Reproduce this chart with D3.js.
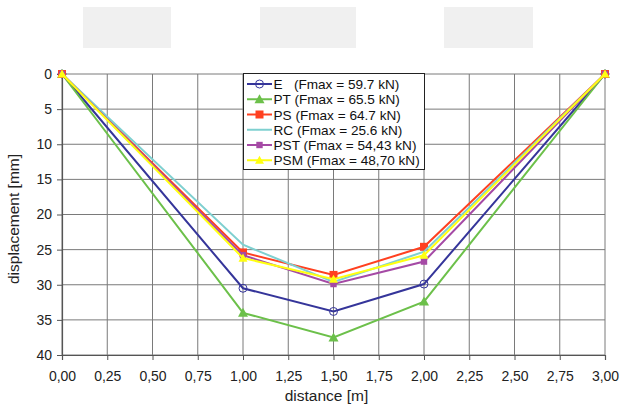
<!DOCTYPE html>
<html>
<head>
<meta charset="utf-8">
<script src="https://cdn.jsdelivr.net/npm/d3@7"></script>
<style>
  html, body { margin: 0; padding: 0; background: #fff; }
  svg text { font-family: "Liberation Sans", Arial, sans-serif; }
</style>
</head>
<body>
<svg id="chart" width="620" height="404"></svg>
<script>
// Measurement positions along the beam [m]
const distances = [0, 1.0, 1.5, 2.0, 3.0];

// Displacement at each position [mm], one array per specimen
const seriesE   = [0, 30.5, 33.8, 29.9, 0];
const seriesPT  = [0, 34.0, 37.5, 32.4, 0];
const seriesPS  = [0, 25.4, 28.6, 24.6, 0];
const seriesRC  = [0, 24.3, 29.6, 25.3, 0];
const seriesPST = [0, 25.8, 29.9, 26.7, 0];
const seriesPSM = [0, 26.2, 29.2, 25.8, 0];

const seriesNames = ["E   (Fmax = 59.7 kN)", "PT (Fmax = 65.5 kN)", "PS (Fmax = 64.7 kN)",
                     "RC (Fmax = 25.6 kN)", "PST (Fmax = 54,43 kN)", "PSM (Fmax = 48,70 kN)"];

const xTicks = [0, 0.25, 0.5, 0.75, 1.0, 1.25, 1.5, 1.75, 2.0, 2.25, 2.5, 2.75, 3.0];
const yTicks = [0, 5, 10, 15, 20, 25, 30, 35, 40];

const series = [
  { name: seriesNames[0], values: seriesE,   color: "#35359a", marker: "circle",   size: 4 },
  { name: seriesNames[1], values: seriesPT,  color: "#6cc04a", marker: "triangle", size: 5 },
  { name: seriesNames[2], values: seriesPS,  color: "#ff4020", marker: "square",   size: 4 },
  { name: seriesNames[3], values: seriesRC,  color: "#7fd0d0", marker: "none",     size: 0 },
  { name: seriesNames[4], values: seriesPST, color: "#a54aa5", marker: "square",   size: 3.2 },
  { name: seriesNames[5], values: seriesPSM, color: "#ffff10", marker: "triangle", size: 4.5 }
];

const svg = d3.select("#chart");
const margin = { left: 62, right: 15, top: 74, bottom: 49 };
const W = 620, H = 404;

const x = d3.scaleLinear().domain([0, 3]).range([margin.left, W - margin.right]);
const y = d3.scaleLinear().domain([0, 40]).range([margin.top, H - margin.bottom]);

// Placeholder panels along the top
const panels = [[83, 171], [260, 356], [444, 533]];
svg.selectAll("rect.panel").data(panels).enter().append("rect")
  .attr("x", d => d[0]).attr("y", 7)
  .attr("width", d => d[1] - d[0]).attr("height", 41)
  .attr("fill", "#f0f0f0");

// Grid
const grid = svg.append("g");
grid.selectAll("line.v").data(xTicks).enter().append("line")
  .attr("x1", d => x(d)).attr("x2", d => x(d))
  .attr("y1", y(0)).attr("y2", y(40))
  .attr("stroke", "#7a7a7a").attr("stroke-width", 1);
grid.selectAll("line.h").data(yTicks).enter().append("line")
  .attr("x1", x(0)).attr("x2", x(3))
  .attr("y1", d => y(d)).attr("y2", d => y(d))
  .attr("stroke", "#7a7a7a").attr("stroke-width", 1);

// Axes
const xAxis = d3.axisBottom(x).tickValues(xTicks).tickSize(5).tickPadding(11)
  .tickFormat(d => d3.format(".2f")(d).replace(".", ","));
const yAxis = d3.axisLeft(y).tickValues(yTicks).tickSize(5).tickPadding(5)
  .tickFormat(d3.format("d"));

const gx = svg.append("g").attr("transform", `translate(0,${y(40)})`).call(xAxis);
const gy = svg.append("g").attr("transform", `translate(${x(0)},0)`).call(yAxis);
[gx, gy].forEach(g => {
  g.select(".domain").attr("stroke", "#555").attr("stroke-width", 1.2);
  g.selectAll(".tick line").attr("stroke", "#555");
  g.selectAll(".tick text").attr("font-size", 14).attr("fill", "#222")
    .attr("font-family", "Liberation Sans, Arial, sans-serif");
});

// Axis titles
svg.append("text").attr("x", 326.5).attr("y", 401)
  .attr("text-anchor", "middle").attr("font-size", 15.5).attr("fill", "#222")
  .text("distance [m]");
svg.append("text")
  .attr("transform", `translate(18.5,219) rotate(-90)`)
  .attr("text-anchor", "middle").attr("font-size", 15.5).attr("fill", "#222")
  .text("displacement [mm]");

// Marker drawing
function drawMarker(g, type, cx, cy, s, color) {
  if (type === "circle") {
    g.append("circle").attr("cx", cx).attr("cy", cy).attr("r", s)
      .attr("fill", "none").attr("stroke", color).attr("stroke-width", 1);
  } else if (type === "square") {
    g.append("rect").attr("x", cx - s).attr("y", cy - s)
      .attr("width", 2 * s).attr("height", 2 * s).attr("fill", color);
  } else if (type === "triangle") {
    g.append("path")
      .attr("d", `M${cx},${cy - s}L${cx + s},${cy + s * 0.8}L${cx - s},${cy + s * 0.8}Z`)
      .attr("fill", color);
  }
}

// Series lines and markers
const line = d3.line().x(d => x(d[0])).y(d => y(d[1]));
series.forEach(s => {
  const pts = distances.map((d, i) => [d, s.values[i]]);
  const g = svg.append("g");
  g.append("path").attr("d", line(pts)).attr("fill", "none")
    .attr("stroke", s.color).attr("stroke-width", 2).attr("stroke-linejoin", "miter");
  pts.forEach(p => drawMarker(g, s.marker, x(p[0]), y(p[1]), s.size, s.color));
});

// Legend
const lg = svg.append("g");
lg.append("rect").attr("x", 243.5).attr("y", 73.5).attr("width", 181).attr("height", 96)
  .attr("fill", "#fff").attr("stroke", "#222").attr("stroke-width", 1);
series.forEach((s, i) => {
  const ly = 84 + i * 15.25;
  lg.append("line").attr("x1", 247).attr("x2", 272).attr("y1", ly).attr("y2", ly)
    .attr("stroke", s.color).attr("stroke-width", 2);
  drawMarker(lg, s.marker, 259.5, ly, s.size, s.color);
  lg.append("text").attr("x", 273.5).attr("y", ly + 5)
    .attr("font-size", 13.6).attr("fill", "#111")
    .attr("xml:space", "preserve").style("white-space", "pre")
    .text(s.name);
});
</script>
</body>
</html>
